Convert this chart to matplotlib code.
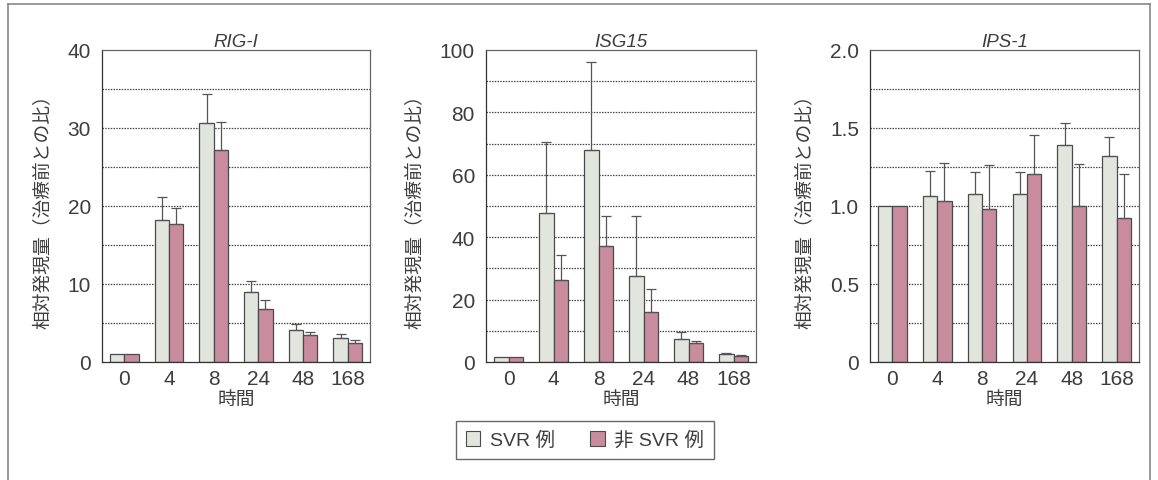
import matplotlib
matplotlib.use("Agg")
import matplotlib.pyplot as plt
from matplotlib.patches import Patch
from matplotlib.lines import Line2D
import numpy as np

plt.rcParams['font.family'] = ['Liberation Sans', 'Noto Sans CJK JP', 'DejaVu Sans']

hours = ["0", "4", "8", "24", "48", "168"]
series_names = ["SVR 例", "非 SVR 例"]

genes = ["RIG-I", "ISG15", "IPS-1"]

rig_svr = [1.0, 18.2, 30.7, 9.0, 4.1, 3.1]
rig_svr_err = [0.0, 2.9, 3.7, 1.4, 0.8, 0.5]
rig_non = [1.0, 17.7, 27.2, 6.8, 3.4, 2.4]
rig_non_err = [0.0, 2.0, 3.6, 1.2, 0.5, 0.4]

isg_svr = [1.5, 47.6, 68.1, 27.5, 7.5, 2.5]
isg_svr_err = [0.0, 22.8, 27.9, 19.3, 2.1, 0.3]
isg_non = [1.5, 26.2, 37.2, 16.0, 6.0, 2.0]
isg_non_err = [0.0, 8.0, 9.6, 7.5, 0.8, 0.4]

ips_svr = [1.0, 1.065, 1.08, 1.076, 1.39, 1.318]
ips_svr_err = [0.0, 0.16, 0.135, 0.14, 0.14, 0.126]
ips_non = [1.0, 1.029, 0.98, 1.206, 0.997, 0.924]
ips_non_err = [0.0, 0.246, 0.282, 0.251, 0.271, 0.28]

y_limits = [40, 100, 2.0]
y_majors = [[0, 10, 20, 30, 40], [0, 20, 40, 60, 80, 100], [0, 0.5, 1.0, 1.5, 2.0]]
y_major_labels = [["0", "10", "20", "30", "40"],
                  ["0", "20", "40", "60", "80", "100"],
                  ["0", "0.5", "1.0", "1.5", "2.0"]]
y_grid_step = [5, 10, 0.25]

svr_values = [rig_svr, isg_svr, ips_svr]
svr_errors = [rig_svr_err, isg_svr_err, ips_svr_err]
non_values = [rig_non, isg_non, ips_non]
non_errors = [rig_non_err, isg_non_err, ips_non_err]

svr_color = "#e1e5de"
non_color = "#c88c9e"
edge_color = "#4a4a4a"
text_color = "#3d3d3d"

fig = plt.figure(figsize=(11.58, 4.81), dpi=100)
fig.patch.set_facecolor("white")

# outer frame (open at the bottom)
W, H = 1158, 481
fx = lambda px: px / W
fy = lambda py: 1 - py / H
fig.add_artist(Line2D([fx(8), fx(1150)], [fy(5), fy(5)], color="#888888", lw=1.2))
fig.add_artist(Line2D([fx(8), fx(8)], [fy(5), fy(481)], color="#888888", lw=1.2))
fig.add_artist(Line2D([fx(1150), fx(1150)], [fy(5), fy(481)], color="#888888", lw=1.2))

lefts = [102, 486, 870]
widths = [268, 270, 269]
top, bottom = 51, 363

x = np.arange(len(hours))
bw = 0.32

for i in range(3):
    ax = fig.add_axes([fx(lefts[i]), fy(bottom), widths[i] / W, (bottom - top) / H])
    ymax = y_limits[i]
    step = y_grid_step[i]
    for g in np.arange(step, ymax - step / 2, step):
        ax.axhline(g, color="#444444", lw=0.9, ls=(0, (1.2, 1.0)), zorder=0)
    ax.bar(x - bw / 2, svr_values[i], bw, color=svr_color, edgecolor=edge_color, lw=0.9, zorder=2)
    ax.bar(x + bw / 2, non_values[i], bw, color=non_color, edgecolor=edge_color, lw=0.9, zorder=2)
    lower = np.zeros(len(hours))
    for xs, vals, errs in ((x - bw / 2, svr_values[i], svr_errors[i]),
                           (x + bw / 2, non_values[i], non_errors[i])):
        errs = np.array(errs)
        mask = errs > 0
        ax.errorbar(xs[mask], np.array(vals)[mask], yerr=[lower[mask], errs[mask]],
                    fmt="none", ecolor="#555555", elinewidth=0.9, capsize=3.5,
                    capthick=0.9, zorder=3)
    ax.set_xlim(-0.5, len(hours) - 0.5)
    ax.set_ylim(0, ymax)
    ax.set_xticks(x)
    ax.set_xticklabels(hours)
    ax.set_yticks(y_majors[i])
    ax.set_yticklabels(y_major_labels[i])
    ax.tick_params(axis="both", length=0, labelsize=15, labelcolor=text_color)
    ax.tick_params(axis="y", pad=8)
    ax.tick_params(axis="x", pad=5)
    for sp in ax.spines.values():
        sp.set_color("#666666")
        sp.set_linewidth(0.9)
    ax.spines["left"].set_color("#333333")
    ax.spines["bottom"].set_color("#333333")
    ax.set_title(genes[i], fontstyle="italic", fontsize=13.5, color=text_color, pad=3)
    ax.set_xlabel("時間", fontsize=13.5, color=text_color, labelpad=0,
                  family=["Noto Sans CJK JP"])
    ax.set_ylabel("相対発現量（治療前との比）", fontsize=13.5, color=text_color,
                  labelpad=11, family=["Noto Sans CJK JP"])

handles = [Patch(facecolor=svr_color, edgecolor=edge_color, lw=0.8),
           Patch(facecolor=non_color, edgecolor=edge_color, lw=0.8)]
leg = fig.legend(handles, series_names, loc="center", bbox_to_anchor=(fx(585), fy(441)),
                 ncol=2, frameon=True, fancybox=False,
                 prop={"family": ["Liberation Sans", "Noto Sans CJK JP"], "size": 14},
                 handlelength=0.75, handleheight=0.75, handletextpad=0.5,
                 columnspacing=1.8, borderpad=0.5)
leg.get_frame().set_edgecolor("#444444")
leg.get_frame().set_linewidth(1.0)
for t in leg.get_texts():
    t.set_color(text_color)

fig.savefig("out.png", dpi=100, facecolor="white")
